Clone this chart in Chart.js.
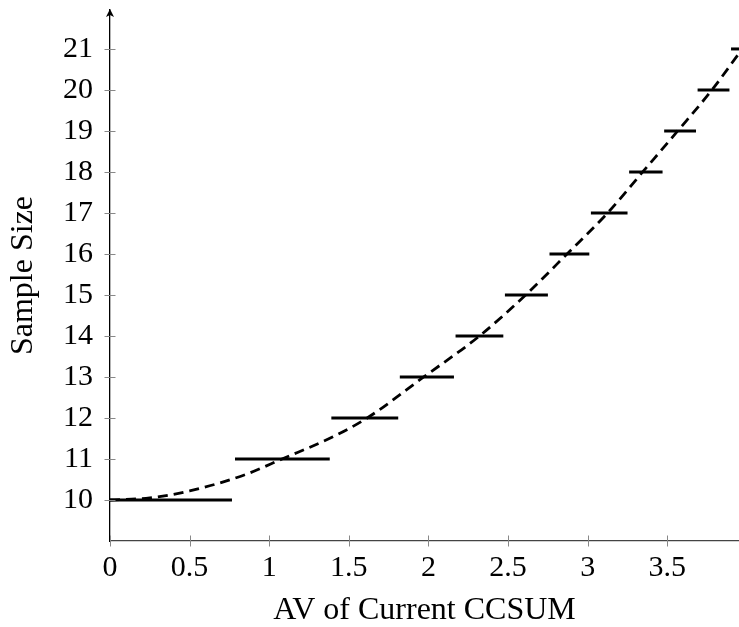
<!DOCTYPE html>
<html>
<head>
<meta charset="utf-8">
<script src="https://cdn.jsdelivr.net/npm/chart.js@4/dist/chart.umd.min.js"></script>
<style>
html,body{margin:0;padding:0;background:#fff;}
#wrap{width:739px;height:627px;position:relative;}
</style>
</head>
<body>
<div id="wrap"><canvas id="c" width="739" height="627"></canvas></div>
<script>
// Step levels (sample size) and their x extents
const stepLevels = [10, 11, 12, 13, 14, 15, 16, 17, 18, 19, 20, 21];
const stepStarts = [0, 0.785, 1.39, 1.82, 2.17, 2.48, 2.76, 3.02, 3.26, 3.48, 3.69, 3.90];
const stepEnds   = [0.766, 1.38, 1.81, 2.16, 2.47, 2.75, 3.01, 3.25, 3.47, 3.68, 3.89, 4.10];
// Dashed continuous curve
const curveX = [0, 0.25, 0.5, 0.85, 1.08, 1.40, 1.615, 1.97, 2.32, 2.61, 2.87, 3.125, 3.345, 3.565, 3.78, 3.97];
const curveY = [10, 10.05, 10.22, 10.62, 11, 11.54, 12, 13, 14, 15, 16, 17, 18, 19, 20, 21];
// Axis ticks
const xTicks = [0, 0.5, 1, 1.5, 2, 2.5, 3, 3.5];
const yTicks = [10, 11, 12, 13, 14, 15, 16, 17, 18, 19, 20, 21];
const xTitle = "AV of Current CCSUM";
const yTitle = "Sample Size";

const FONT = "'Liberation Serif', 'DejaVu Serif', serif";

const datasets = stepLevels.map((lv, i) => ({
  data: [{x: stepStarts[i], y: lv}, {x: stepEnds[i], y: lv}],
  showLine: true, borderColor: '#000', borderWidth: 3, pointRadius: 0,
  borderCapStyle: 'butt', tension: 0
}));
datasets.push({
  data: curveX.map((x, i) => ({x, y: curveY[i]})),
  showLine: true, borderColor: '#000', borderWidth: 2.8, pointRadius: 0,
  borderDash: [10, 6], cubicInterpolationMode: 'monotone', borderCapStyle: 'butt'
});

const axisDecor = {
  id: 'axisDecor',
  afterDraw(chart) {
    const ctx = chart.ctx, xs = chart.scales.x, ys = chart.scales.y;
    const ax = xs.getPixelForValue(0), ay = ys.getPixelForValue(9);
    ctx.save();
    ctx.strokeStyle = '#888'; ctx.lineWidth = 1;
    yTicks.forEach(v => {
      const p = Math.round(ys.getPixelForValue(v)) + 0.5;
      ctx.beginPath(); ctx.moveTo(ax - 5.5, p); ctx.lineTo(ax + 5.5, p); ctx.stroke();
    });
    xTicks.forEach(v => {
      const p = Math.round(xs.getPixelForValue(v)) + 0.5;
      ctx.beginPath(); ctx.moveTo(p, ay - 5.5); ctx.lineTo(p, ay + 5.5); ctx.stroke();
    });
    // y arrow
    const top = chart.chartArea.top;
    ctx.fillStyle = '#000';
    ctx.beginPath();
    ctx.moveTo(ax, top - 1); ctx.lineTo(ax - 4, top + 7); ctx.lineTo(ax, top + 5); ctx.lineTo(ax + 4, top + 7);
    ctx.closePath(); ctx.fill();
    ctx.restore();
  }
};

new Chart(document.getElementById('c'), {
  type: 'scatter',
  data: { datasets },
  plugins: [axisDecor],
  options: {
    responsive: false, animation: false, devicePixelRatio: 1,
    layout: { padding: { top: 10, right: 0, left: 0, bottom: 0 } },
    plugins: { legend: { display: false }, tooltip: { enabled: false } },
    scales: {
      x: {
        type: 'linear', min: 0, max: 3.95,
        afterFit(s) { s.height = 86; s.paddingLeft = 0; s.paddingRight = 0; },
        grid: { display: false, drawTicks: false, tickLength: 0 },
        border: { display: true, color: '#444', width: 1.3 },
        ticks: { stepSize: 0.5, includeBounds: false, padding: 9, color: '#000',
                 font: { family: FONT, size: 30 }, maxRotation: 0, autoSkip: false,
                 callback: (v) => xTicks.includes(v) ? String(v) : '' },
        title: { display: true, text: xTitle, color: '#000', padding: { top: 0, bottom: 0 },
                 font: { family: FONT, size: 32, lineHeight: 1 } }
      },
      y: {
        type: 'linear', min: 9, max: 21.95,
        afterFit(s) { s.width = 110; s.paddingTop = 0; s.paddingBottom = 0; },
        grid: { display: false, drawTicks: false, tickLength: 0 },
        border: { display: true, color: '#000', width: 1.3 },
        ticks: { stepSize: 1, includeBounds: false, padding: 17, color: '#000',
                 font: { family: FONT, size: 30 },
                 callback: (v) => yTicks.includes(v) ? String(v) : '' },
        title: { display: true, text: yTitle, color: '#000', padding: { top: 6, bottom: 0 },
                 font: { family: FONT, size: 32, lineHeight: 1.1 } }
      }
    }
  }
});
</script>
</body>
</html>
